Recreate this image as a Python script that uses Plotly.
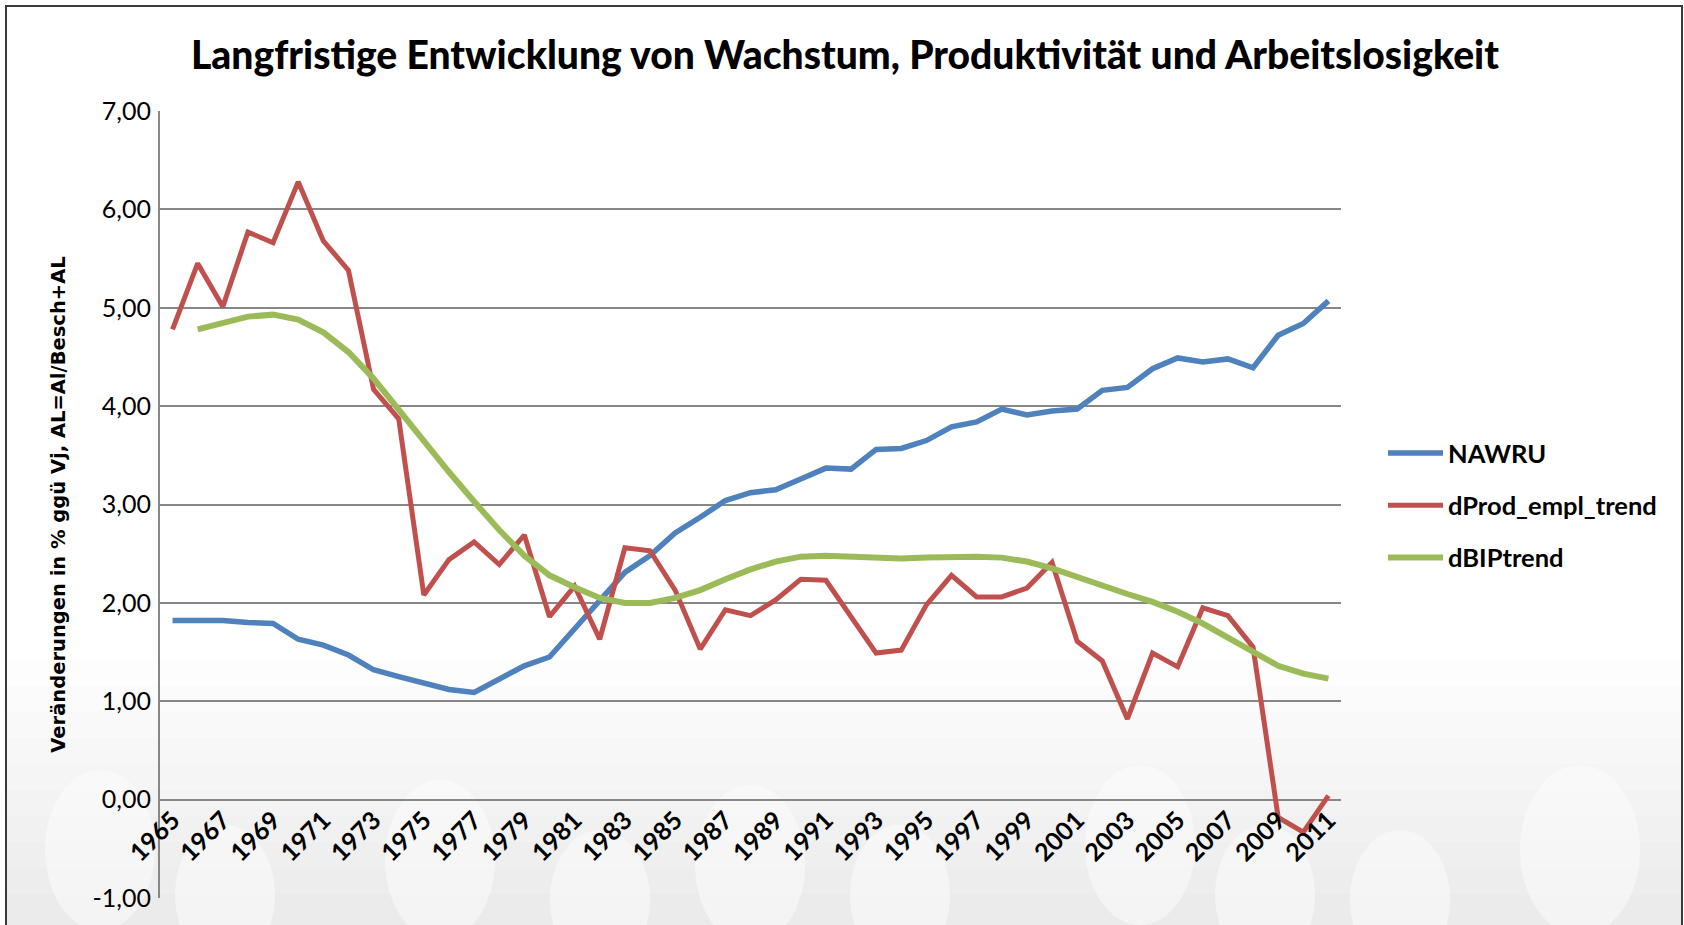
import plotly.graph_objects as go

years = [str(y) for y in range(1965, 2012)]
tick_years = years[::2]

nawru = [1.82, 1.82, 1.82, 1.80, 1.79, 1.63, 1.57, 1.47, 1.32, 1.25,
         1.18, 1.12, 1.09, 1.23, 1.36, 1.45, 1.73, 2.01, 2.31, 2.48,
         2.71, 2.87, 3.04, 3.12, 3.15, 3.26, 3.37, 3.36, 3.56, 3.57,
         3.65, 3.79, 3.84, 3.97, 3.91, 3.95, 3.97, 4.16, 4.19, 4.38,
         4.49, 4.45, 4.48, 4.39, 4.72, 4.84, 5.07]

dprod = [4.78, 5.45, 5.01, 5.77, 5.66, 6.28, 5.68, 5.38, 4.17, 3.87,
         2.08, 2.44, 2.62, 2.39, 2.69, 1.86, 2.17, 1.63, 2.56, 2.53,
         2.13, 1.53, 1.93, 1.87, 2.03, 2.24, 2.23, 1.86, 1.49, 1.52,
         1.98, 2.28, 2.06, 2.06, 2.15, 2.41, 1.61, 1.41, 0.82, 1.49,
         1.35, 1.95, 1.87, 1.55, -0.18, -0.33, 0.04]

dbip = [None, 4.78, 4.84, 4.91, 4.93, 4.88, 4.75, 4.55, 4.28, 3.96,
        3.64, 3.33, 3.03, 2.74, 2.48, 2.28, 2.16, 2.05, 2.00, 2.00,
        2.05, 2.13, 2.24, 2.34, 2.42, 2.47, 2.48, 2.47, 2.45, 2.45,
        2.46, 2.47, 2.47, 2.46, 2.42, 2.35, 2.26, 2.18, 2.09, 2.01,
        1.91, 1.79, 1.65, 1.50, 1.36, 1.28, 1.23]

y_ticks = [-1, 0, 1, 2, 3, 4, 5, 6, 7]
y_ticktext = ["-1,00", "0,00", "1,00", "2,00", "3,00", "4,00", "5,00", "6,00", "7,00"]

W, H = 1684, 925
ML, MR, MT, MB = 160, 343, 111, 27
PW, PH = W - ML - MR, H - MT - MB


def px2x(px):
    return (px - ML) / PW


def py2y(py):
    return (H - MB - py) / PH


fig = go.Figure()
fig.add_trace(go.Scatter(x=years, y=nawru, name="NAWRU", mode="lines",
                         line=dict(color="#4F81BD", width=5.5), legendgroup="a"))
fig.add_trace(go.Scatter(x=years, y=dprod, name="dProd_empl_trend", mode="lines",
                         line=dict(color="#C0504D", width=5), legendgroup="b"))
fig.add_trace(go.Scatter(x=years, y=dbip, name="dBIPtrend", mode="lines",
                         line=dict(color="#9BBB59", width=6), legendgroup="c"))

shapes = []
# gradient background at bottom
for k in range(10):
    shapes.append(dict(type="rect", xref="paper", yref="paper", layer="below",
                       x0=px2x(7), x1=px2x(1681), y0=py2y(940), y1=py2y(660 + k * 26),
                       fillcolor="#999999", opacity=0.022, line=dict(width=0)))
# faint white circles decoration
circles = [(100, 850, 55, 80), (225, 895, 50, 70), (440, 860, 55, 80), (600, 900, 50, 70),
           (750, 865, 55, 80), (900, 895, 50, 70), (1140, 845, 55, 80), (1265, 895, 50, 70),
           (1400, 900, 50, 70), (1580, 850, 60, 85)]
for cx, cy, rx, ry in circles:
    shapes.append(dict(type="circle", xref="paper", yref="paper", layer="below",
                       x0=px2x(cx - rx), x1=px2x(cx + rx), y0=py2y(cy + ry), y1=py2y(cy - ry),
                       fillcolor="white", opacity=0.45, line=dict(width=0)))
# chart border
shapes.append(dict(type="rect", xref="paper", yref="paper", layer="above",
                   x0=px2x(6), x1=px2x(1682), y0=py2y(960), y1=py2y(6),
                   line=dict(color="#3a3a3a", width=2), fillcolor="rgba(0,0,0,0)"))

fig.update_layout(
    width=W, height=H,
    margin=dict(l=ML, r=MR, t=MT, b=MB),
    paper_bgcolor="white",
    plot_bgcolor="rgba(0,0,0,0)",
    font=dict(family="Lato", color="black"),
    title=dict(text="Langfristige Entwicklung von Wachstum, Produktivität und Arbeitslosigkeit",
               x=845 / W, xref="container", xanchor="center",
               y=1 - 55 / H, yref="container", yanchor="middle",
               font=dict(family="Lato", size=39, weight=900, color="black")),
    xaxis=dict(type="category", range=[-0.5, len(years) - 0.5],
               tickmode="array", tickvals=tick_years, ticktext=tick_years,
               tickangle=-45, anchor="free", position=(0 - y_ticks[0]) / (y_ticks[-1] - y_ticks[0]),
               showgrid=False, showline=False, zeroline=False, ticks="",
               tickfont=dict(family="Lato", size=25, weight="bold", color="black")),
    yaxis=dict(range=[y_ticks[0], y_ticks[-1]], tickmode="array",
               tickvals=y_ticks, ticktext=y_ticktext,
               showgrid=True, gridcolor="#878787", gridwidth=2,
               zeroline=False, showline=True, linecolor="#878787", linewidth=2,
               ticks="", ticklabelstandoff=2,
               tickfont=dict(family="Lato", size=25, color="black"),
               title=dict(text="Veränderungen in % ggü Vj, AL=Al/Besch+AL", standoff=22,
                          font=dict(family="DejaVu Sans", size=19.5, weight="bold", color="black"))),
    legend=dict(x=px2x(1383), y=py2y(430), xanchor="left", yanchor="top",
                bgcolor="rgba(0,0,0,0)", tracegroupgap=16, itemwidth=55,
                font=dict(family="Lato", size=25.5, weight="bold", color="black")),
    shapes=shapes,
)

fig.write_html("out.html", config={"displayModeBar": False},
               post_script="document.body.style.margin='0';document.body.style.overflow='hidden';")
